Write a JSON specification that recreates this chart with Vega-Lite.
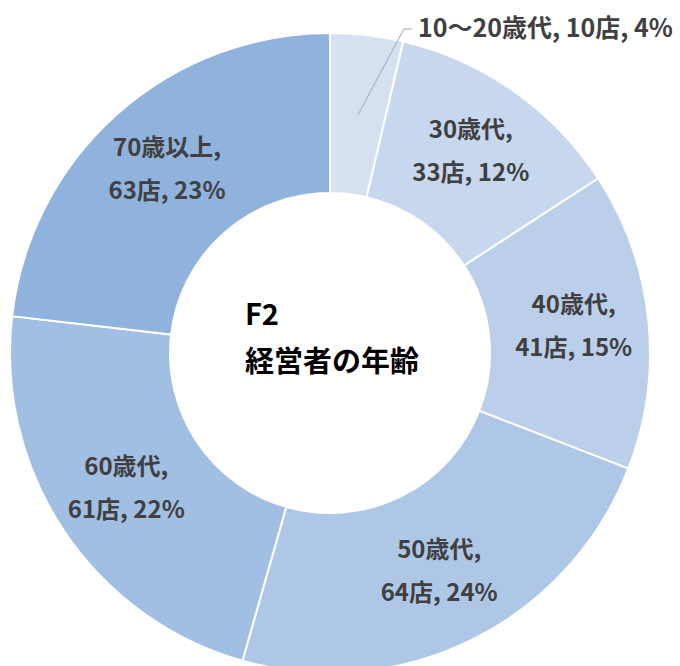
{
  "$schema": "https://vega.github.io/schema/vega-lite/v6.json",
  "width": 660,
  "height": 706,
  "autosize": "none",
  "padding": {"left": 0, "top": 0, "right": 20, "bottom": 0},
  "background": "white",
  "config": {"view": {"stroke": null}},
  "datasets": {
    "slices": [
      {"idx": 1, "age": "10～20歳代", "count": 10, "pct": 4},
      {"idx": 2, "age": "30歳代", "count": 33, "pct": 12},
      {"idx": 3, "age": "40歳代", "count": 41, "pct": 15},
      {"idx": 4, "age": "50歳代", "count": 64, "pct": 24},
      {"idx": 5, "age": "60歳代", "count": 61, "pct": 22},
      {"idx": 6, "age": "70歳以上", "count": 63, "pct": 23}
    ],
    "leader": [
      {"o": 1, "lx": 0.0875, "ly": 0.744},
      {"o": 2, "lx": 0.231, "ly": 1.0125},
      {"o": 3, "lx": 0.256, "ly": 1.0125}
    ]
  },
  "layer": [
    {
      "data": {"name": "slices"},
      "mark": {"type": "arc", "innerRadius": 160, "outerRadius": 320, "stroke": "white", "strokeWidth": 2},
      "encoding": {
        "theta": {"field": "count", "type": "quantitative", "stack": true},
        "order": {"field": "idx", "type": "quantitative"},
        "color": {
          "field": "age", "type": "nominal", "legend": null,
          "scale": {
            "domain": ["10～20歳代", "30歳代", "40歳代", "50歳代", "60歳代", "70歳以上"],
            "range": ["#d5e0f1", "#c7d7ed", "#bccfea", "#afc7e6", "#a1bee3", "#8fb3dd"]
          }
        }
      }
    },
    {
      "data": {"name": "slices"},
      "transform": [
        {"calculate": "datum.idx == 1 ? '' : datum.age + ',\\n' + datum.count + '店, ' + datum.pct + '%'", "as": "label"}
      ],
      "mark": {"type": "text", "radius": 245, "dy": -21.5, "fontSize": 24, "font": "Noto Sans CJK JP", "fontWeight": "bold", "color": "#404040", "lineBreak": "\n", "lineHeight": 43, "align": "center", "baseline": "middle"},
      "encoding": {
        "theta": {"field": "count", "type": "quantitative", "stack": true},
        "order": {"field": "idx", "type": "quantitative"},
        "text": {"field": "label", "type": "nominal"}
      }
    },
    {
      "data": {"name": "leader"},
      "mark": {"type": "line", "color": "#a6a6a6", "strokeWidth": 1},
      "encoding": {
        "x": {"field": "lx", "type": "quantitative", "scale": {"domain": [-1.03125, 1.03125], "nice": false, "zero": false}, "axis": null},
        "y": {"field": "ly", "type": "quantitative", "scale": {"domain": [-1.103125, 1.103125], "nice": false, "zero": false}, "axis": null},
        "order": {"field": "o", "type": "quantitative"}
      }
    },
    {
      "data": {"values": [{}]},
      "mark": {"type": "text", "fontSize": 25, "font": "Noto Sans CJK JP", "fontWeight": "bold", "color": "#404040", "align": "left", "baseline": "middle"},
      "encoding": {
        "x": {"datum": 0.275, "type": "quantitative"},
        "y": {"datum": 1.0125, "type": "quantitative"},
        "text": {"value": "10～20歳代, 10店, 4%"}
      }
    },
    {
      "data": {"values": [{}]},
      "mark": {"type": "text", "fontSize": 29, "font": "Noto Sans CJK JP", "fontWeight": "bold", "color": "#000000", "align": "left", "baseline": "middle", "lineBreak": "\n", "lineHeight": 47},
      "encoding": {
        "x": {"datum": -0.266, "type": "quantitative"},
        "y": {"datum": 0.1156, "type": "quantitative"},
        "text": {"value": "F2\n経営者の年齢"}
      }
    }
  ]
}
